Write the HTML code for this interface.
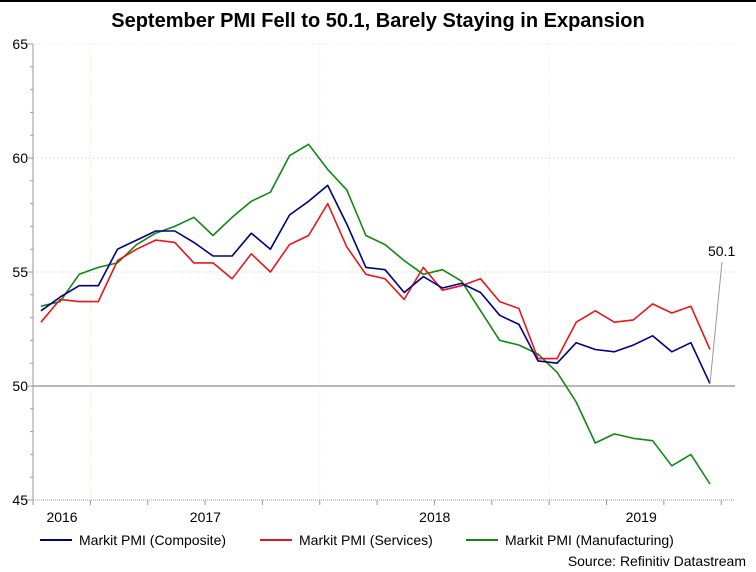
<!DOCTYPE html>
<html><head><meta charset="utf-8"><style>
body{margin:0;background:#fff;}
svg{display:block;font-family:"Liberation Sans",Arial,sans-serif;}
</style></head><body>
<svg id="chart" width="756" height="572" viewBox="0 0 756 572">
<rect x="0" y="0" width="756" height="572" fill="#fff"/>
<rect x="0" y="0" width="756" height="2" fill="#000"/>
<text x="378" y="27" text-anchor="middle" font-size="20" font-weight="bold" fill="#000">September PMI Fell to 50.1, Barely Staying in Expansion</text>
<g id="grid"></g>
<g id="axes"></g>
<g id="series"></g>
<g id="legend">
<line x1="40" y1="540" x2="72" y2="540" stroke="#000080" stroke-width="2"/>
<text x="79" y="545" font-size="14" fill="#000">Markit PMI (Composite)</text>
<line x1="260" y1="540" x2="292" y2="540" stroke="#e8161b" stroke-width="2"/>
<text x="299" y="545" font-size="14" fill="#000">Markit PMI (Services)</text>
<line x1="466" y1="540" x2="498" y2="540" stroke="#118811" stroke-width="2"/>
<text x="505" y="545" font-size="14" fill="#000">Markit PMI (Manufacturing)</text>
</g>
<text x="746" y="566" text-anchor="end" font-size="14" fill="#000">Source: Refinitiv Datastream</text>
</svg>
<script>
const composite=[53.3,53.9,54.4,54.4,56.0,56.4,56.8,56.8,56.3,55.7,55.7,56.7,56.0,57.5,58.1,58.8,57.1,55.2,55.1,54.1,54.8,54.3,54.5,54.1,53.1,52.7,51.1,51.0,51.9,51.6,51.5,51.8,52.2,51.5,51.9,50.1];
const services=[52.8,53.8,53.7,53.7,55.5,56.0,56.4,56.3,55.4,55.4,54.7,55.8,55.0,56.2,56.6,58.0,56.1,54.9,54.7,53.8,55.2,54.2,54.4,54.7,53.7,53.4,51.2,51.2,52.8,53.3,52.8,52.9,53.6,53.2,53.5,51.6];
const manufacturing=[53.5,53.7,54.9,55.2,55.4,56.2,56.7,57.0,57.4,56.6,57.4,58.1,58.5,60.1,60.6,59.5,58.6,56.6,56.2,55.5,54.9,55.1,54.6,53.3,52.0,51.8,51.4,50.6,49.3,47.5,47.9,47.7,47.6,46.5,47.0,45.7];
const yTicks=[45,50,55,60,65];
const yearLabels=["2016","2017","2018","2019"];
const yearLabelMonth=[1.1,8.6,20.6,31.4];
const lastLabel="50.1";

const NS="http://www.w3.org/2000/svg";
const x0=41,dx=19.114,yBase=500,pxPerUnit=22.8;
function xs(i){return x0+i*dx;}
function ys(v){return yBase-(v-45)*pxPerUnit;}
function qx(q){return 33+q*57.35;}
function mk(tag,attrs,parent){const e=document.createElementNS(NS,tag);for(const k in attrs)e.setAttribute(k,attrs[k]);parent.appendChild(e);return e;}
const grid=document.getElementById('grid'),axes=document.getElementById('axes'),ser=document.getElementById('series');

[1,5,9].forEach(q=>{
  const l=mk('line',{x1:qx(q),x2:qx(q),y1:ys(65),y2:ys(45),stroke:'#efe8c0','stroke-dasharray':'1,2'},grid);
  
  
});
yTicks.forEach(v=>{
  let attrs;
  if(v===50) attrs={stroke:'#a0a0a0','stroke-width':1.5};
  else if(v===45) attrs={stroke:'#999','stroke-dasharray':'1,1'};
  else if(v===65) attrs={stroke:'#efe4b0','stroke-dasharray':'1,2'};
  else attrs={stroke:'#b8d8a0','stroke-dasharray':'1,3'};
  const l=mk('line',Object.assign({x1:33,x2:735,y1:ys(v),y2:ys(v)},attrs),grid);
  
  
  const t=mk('text',{x:28,y:ys(v)+5,'text-anchor':'end','font-size':14,fill:'#000'},axes);
  t.textContent=v;
  
  
});
const ya=mk('line',{x1:33,x2:33,y1:ys(65),y2:ys(45),stroke:'#999','stroke-width':1},axes);


for(let v=45;v<=65;v++){
  const len=(v%5===0)?6:3;
  mk('line',{x1:33-len,x2:33,y1:ys(v),y2:ys(v),stroke:'#999'},axes);
}
for(let q=0;q<13;q++){
  mk('line',{x1:qx(q),x2:qx(q),y1:500,y2:505,stroke:'#999'},axes);
}
yearLabels.forEach((s,i)=>{
  const t=mk('text',{x:xs(yearLabelMonth[i]),y:522,'text-anchor':'middle','font-size':14,fill:'#000'},axes);
  t.textContent=s;
  
  
});
function line(data,color,name){
  const p=mk('polyline',{points:data.map((v,i)=>xs(i).toFixed(1)+','+ys(v).toFixed(1)).join(' '),fill:'none',stroke:color,'stroke-width':1.6,'stroke-linejoin':'round'},ser);
  
  
}
line(manufacturing,'#118811','line-manufacturing');
line(services,'#e8161b','line-services');
line(composite,'#000080','line-composite');
const li=composite.length-1;
const al=mk('line',{x1:xs(li),y1:ys(composite[li]),x2:xs(li)+12,y2:262,stroke:'#999'},ser);


const at=mk('text',{x:xs(li)-2,y:256,'font-size':14,fill:'#000'},ser);
at.textContent=lastLabel;


</script>
</body></html>
